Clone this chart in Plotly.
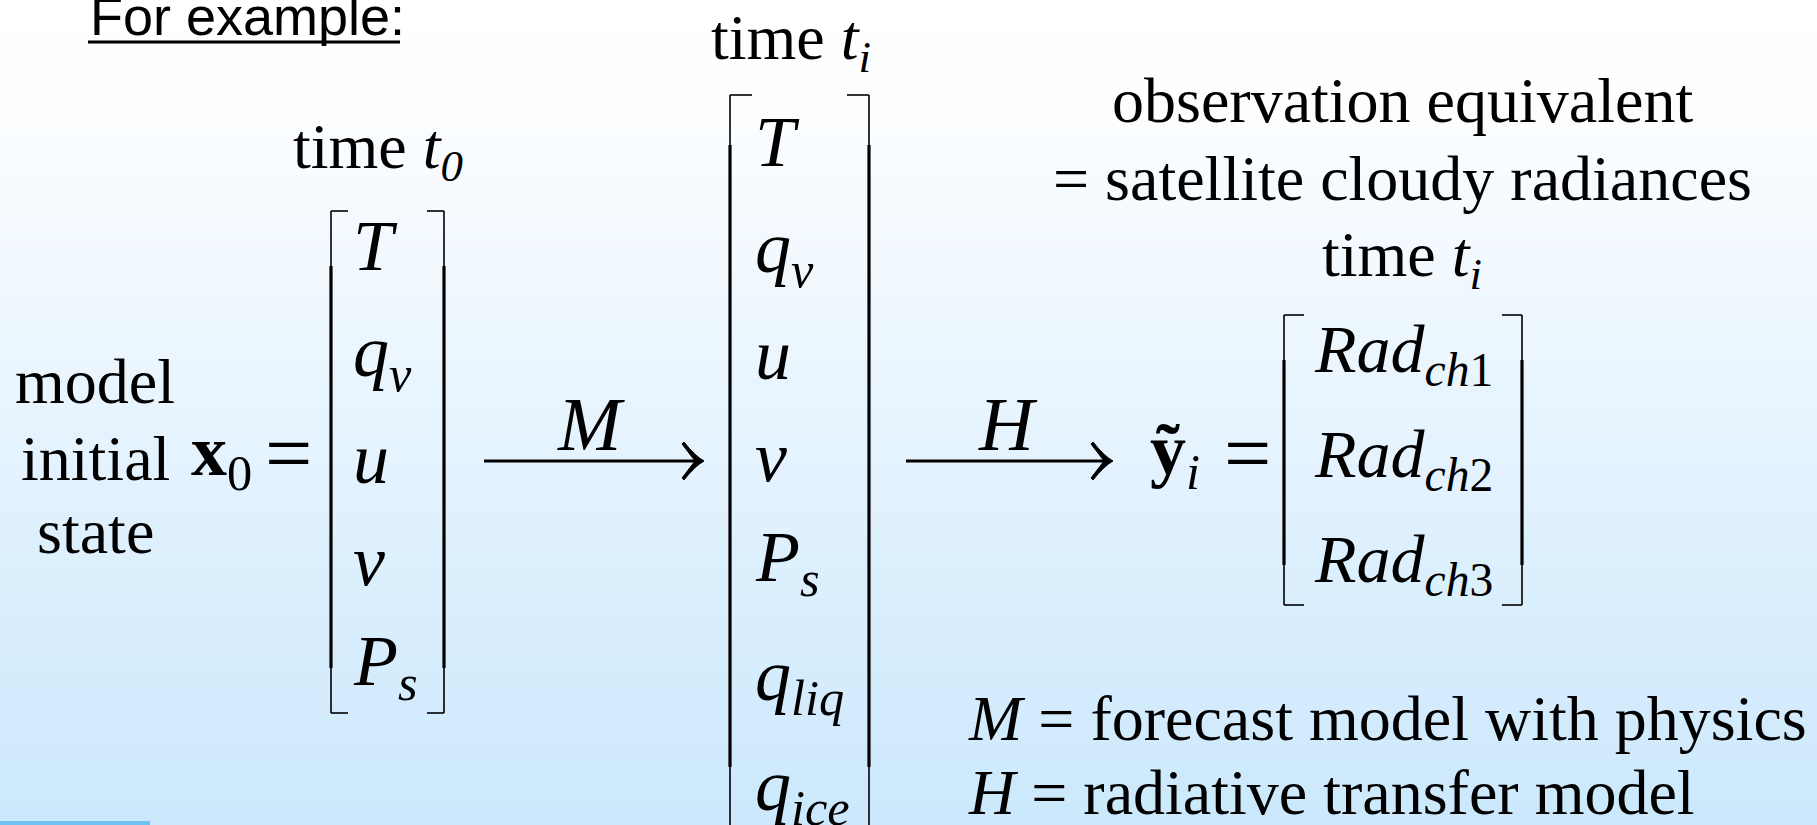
import plotly.graph_objects as go

# ---------------- content ----------------
heading = "For example:"
left_label_lines = ["model", "initial", "state"]
state0_symbol = "<b>x</b><sub>0</sub>"
state0_time = "time <i>t<sub>0</sub></i>"
state0_entries = ["<i>T</i>", "<i>q<sub>v</sub></i>", "<i>u</i>", "<i>v</i>", "<i>P<sub>s</sub></i>"]
statei_time = "time <i>t<sub>i</sub></i>"
statei_entries = ["<i>T</i>", "<i>q<sub>v</sub></i>", "<i>u</i>", "<i>v</i>", "<i>P<sub>s</sub></i>",
                  "<i>q<sub>liq</sub></i>", "<i>q<sub>ice</sub></i>"]
operator_labels = ["<i>M</i>", "<i>H</i>"]
obs_symbol = "<b>ỹ</b><sub><i>i</i></sub>"
equals_sign = "="
obs_title_lines = ["observation equivalent", "= satellite cloudy radiances", "time <i>t<sub>i</sub></i>"]
obs_entries = ["<i>Rad</i><sub><i>ch</i>1</sub>", "<i>Rad</i><sub><i>ch</i>2</sub>", "<i>Rad</i><sub><i>ch</i>3</sub>"]
legend_lines = ["<i>M</i> = forecast model with physics", "<i>H</i> = radiative transfer model"]

# background gradient stops (position, colour)
bg_stops = [(0.0, "#ffffff"), (0.15, "#fbfdff"), (0.5, "#e7f4fe"), (1.0, "#cbe8fc")]

W, H = 1817, 825
SERIF = "Liberation Serif"
SANS = "Liberation Sans"

fig = go.Figure()

# gradient background
fig.add_trace(go.Heatmap(
    z=[[0, 0], [1, 1]], x=[0, W], y=[0, H], zsmooth="best",
    colorscale=[[p, c] for p, c in bg_stops], showscale=False, hoverinfo="skip"))

annotations = []
shapes = []


def text(s, x, y, size=64, xanchor="center", family=SERIF, yanchor="middle"):
    annotations.append(dict(text=s, x=x, y=y, xref="x", yref="y", showarrow=False,
                            xanchor=xanchor, yanchor=yanchor,
                            font=dict(family=family, size=size, color="black")))


def line(x0, y0, x1, y1, w=2.5):
    shapes.append(dict(type="line", x0=x0, y0=y0, x1=x1, y1=y1, xref="x", yref="y",
                       line=dict(color="black", width=w)))


def bracket(xl, xr, top, bottom, tick, thin_top=55, thin_bot=45):
    for x, d in ((xl, 1), (xr, -1)):
        line(x, top, x + d * tick, top, 1.6)
        line(x, bottom, x + d * tick, bottom, 1.6)
        line(x, top, x, top + thin_top, 1.6)
        line(x, top + thin_top, x, bottom - thin_bot, 3.2)
        line(x, bottom - thin_bot, x, bottom, 1.6)


def arrow(x0, x1, y):
    line(x0, y, x1 - 4, y, 2.8)
    head = (f"M {x1+1},{y} Q {x1-8},{y-5} {x1-19},{y-19} L {x1-21},{y-17} "
            f"Q {x1-11},{y-4} {x1-8},{y} Q {x1-11},{y+4} {x1-21},{y+17} "
            f"L {x1-19},{y+19} Q {x1-8},{y+5} {x1+1},{y} Z")
    shapes.append(dict(type="path", xref="x", yref="y", path=head,
                       fillcolor="black", line=dict(color="black", width=1)))


# heading
text(heading, 88, 16, size=54, xanchor="left", family=SANS)
line(88, 42, 400, 42, 3)

# left label
for s, y in zip(left_label_lines, [381, 458, 531]):
    text(s, 95, y)
text(state0_symbol, 189, 456, size=72, xanchor="left")
text(equals_sign, 288, 453, size=84)

# state at t0
text(state0_time, 378, 151)
bracket(331, 444, 211, 713, 17)
for s, y in zip(state0_entries, [246, 357, 459, 561, 666]):
    text(s, 351, y, size=72, xanchor="left")

# operator M
arrow(484, 703, 461)
text(operator_labels[0], 591, 424, size=76)

# state at ti
text(statei_time, 791, 42)
bracket(730, 869, 95, 832, 22, thin_top=50, thin_bot=65)
for s, y in zip(statei_entries, [142, 253, 355, 457, 562, 681, 791]):
    text(s, 753, y, size=72, xanchor="left")

# operator H
arrow(906, 1112, 461)
text(operator_labels[1], 1008, 424, size=76)

# observation
text(obs_symbol, 1148, 455, size=72, xanchor="left")
text(equals_sign, 1247, 453, size=84)
for s, y in zip(obs_title_lines, [100, 178, 259]):
    text(s, 1402, y)
bracket(1284, 1522, 315, 605, 20, thin_top=45, thin_bot=40)
for s, y in zip(obs_entries, [353, 458, 563]):
    text(s, 1312, y, size=68, xanchor="left")

# explanation
for s, y in zip(legend_lines, [718, 792]):
    text(s, 966, y, xanchor="left")

# small blue bar bottom-left
shapes.append(dict(type="rect", x0=0, x1=150, y0=821, y1=826, xref="x", yref="y",
                   line=dict(width=0), fillcolor="#6ec1f2"))

fig.update_layout(
    width=W, height=H, margin=dict(l=0, r=0, t=0, b=0),
    paper_bgcolor="white", plot_bgcolor="white",
    xaxis=dict(range=[0, W], visible=False, fixedrange=True),
    yaxis=dict(range=[H, 0], visible=False, fixedrange=True),
    annotations=annotations, shapes=shapes, showlegend=False)

fig.write_html("out.html", config={"displayModeBar": False},
               post_script="document.body.style.margin='0';document.body.style.overflow='hidden';")
